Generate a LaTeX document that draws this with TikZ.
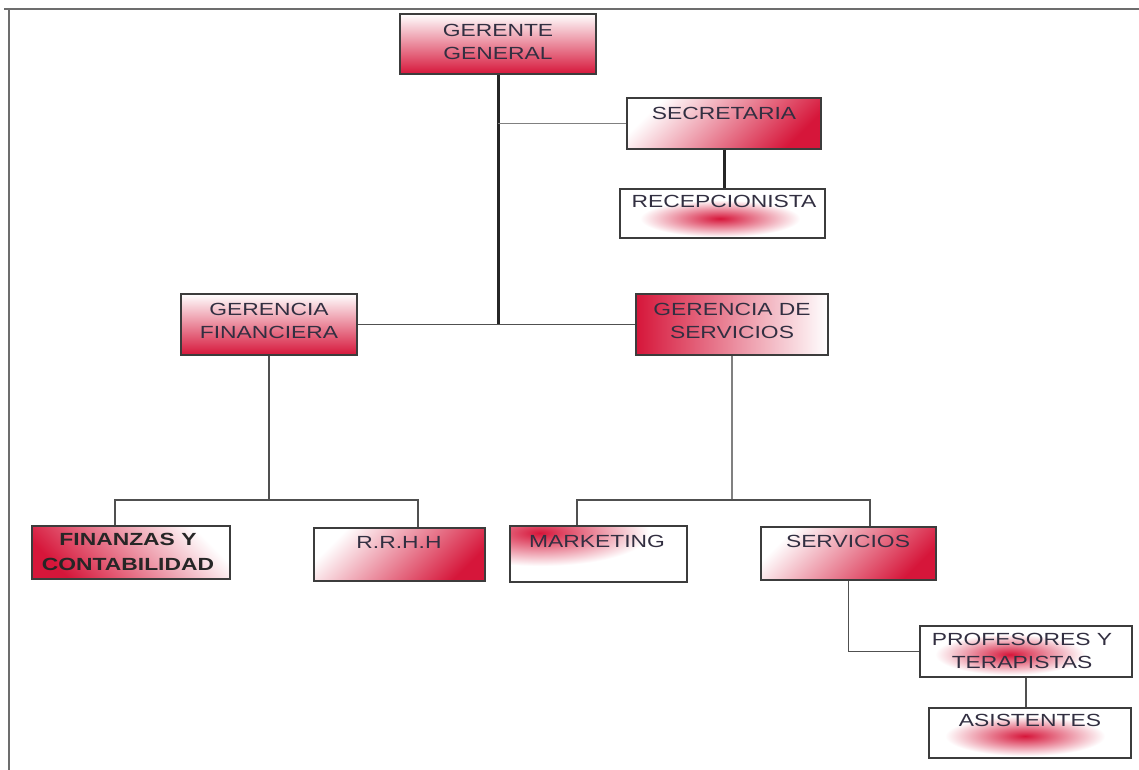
\documentclass[tikz,border=0pt]{standalone}
\usepackage{graphicx}
\usepackage{fontspec}
\setmainfont{Liberation Sans}
\usetikzlibrary{fit}
\definecolor{crim}{RGB}{214,22,58}
\definecolor{frm}{RGB}{60,60,60}
\definecolor{txt}{RGB}{50,47,65}
\newcommand{\wtxt}[1]{\scalebox{1.3}[1]{#1}}
\begin{document}
\begin{tikzpicture}[x=0.02cm,y=-0.02cm,
  box/.style={draw=frm,line width=1pt,inner sep=0pt},
  blob/.style={inner color=crim, outer color=white},
  lbl/.style={text=txt,font=\fontsize{10}{13}\selectfont,align=center,inner sep=0pt},
  link/.style={draw=frm!90,line width=0.8pt},
  thinlink/.style={draw=gray,line width=0.8pt},
  trunk/.style={draw=black!85,line width=1.7pt}]
\useasboundingbox (0,0) rectangle (1139,770);
\fill[white] (0,0) rectangle (1139,770);
\draw[frm!75,line width=1.2pt] (4,9) -- (1139,9);
\draw[frm!75,line width=1.2pt] (9,9) -- (9,770);

% boxes
\node[box, fit={(400,14)(596,74)}, top color=white, middle color=crim!30, bottom color=crim] (gg) {};
\node[box, fit={(627,98)(821,149)}, top color=white, middle color=crim!20, bottom color=crim, shading angle=45] (sec) {};
\node[box, fit={(620,189)(825,238)}, fill=white] (rec) {};
\node[box, fit={(181,294)(357,355)}, top color=white, middle color=crim!40, bottom color=crim] (gf) {};
\node[box, fit={(636,294)(828,355)}, left color=crim, middle color=crim!12, right color=white] (gs) {};
\node[box, fit={(32,526)(230,579)}, top color=white, middle color=crim!50, bottom color=crim, shading angle=-45] (fin) {};
\node[box, fit={(314,528)(485,581)}, top color=white, middle color=crim!25, bottom color=crim, shading angle=45] (rr) {};
\node[box, fit={(510,526)(687,582)}, fill=white] (mkt) {};
\node[box, fit={(761,527)(936,580)}, top color=white, middle color=crim!85, bottom color=crim, shading angle=45] (srv) {};
\node[box, fit={(920,626)(1132,677)}, fill=white] (prof) {};
\node[box, fit={(929,708)(1131,758)}, fill=white] (ast) {};

% red blurs inside white boxes
\path[blob] (640,200) rectangle (800,237);
\begin{scope}
  \clip (511,527) rectangle (686,581);
  \path[blob] (430,500) rectangle (650,566);
\end{scope}
\path[blob] (935,634) rectangle (1085,675);
\path[blob] (945,716) rectangle (1105,756);

% texts
\node[lbl] (ggt) at (498,42) {\wtxt{GERENTE}\\\wtxt{GENERAL}};
\node[lbl] (sect) at (724,113) {\wtxt{SECRETARIA}};
\node[lbl] (rect) at (724,201) {\wtxt{RECEPCIONISTA}};
\node[lbl] (gft) at (269,321) {\wtxt{GERENCIA}\\\wtxt{FINANCIERA}};
\node[lbl] (gst) at (732,321) {\wtxt{GERENCIA DE}\\\wtxt{SERVICIOS}};
\node[lbl,text=black!85,font=\fontsize{10}{14}\selectfont\bfseries] (fint) at (128,552) {\wtxt{FINANZAS Y}\\\wtxt{CONTABILIDAD}};
\node[lbl] (rrt) at (399,542) {\wtxt{R.R.H.H}};
\node[lbl] (mktt) at (597,541) {\wtxt{MARKETING}};
\node[lbl] (srvt) at (848,541) {\wtxt{SERVICIOS}};
\node[lbl] (proft) at (1022,651) {\wtxt{PROFESORES Y}\\\wtxt{TERAPISTAS}};
\node[lbl] (astt) at (1030,720) {\wtxt{ASISTENTES}};

% connectors
\draw[trunk] (gg.south) -- (gg.south |- gf.east);
\draw[link] (gf.east) -- (gs.west);
\draw[thinlink] (sec.west) -- (sec.west -| gg.south);
\draw[trunk] (sec.south) -- (sec.south |- rec.north);
\coordinate (jf) at (269,500);
\coordinate (js) at (732,500);
\draw[link] (gf.south) -- (jf);
\draw[link] ([xshift=-0.32cm]fin.north) |- (jf) -| ([xshift=0.37cm]rr.north);
\draw[thinlink] (gs.south) -- (js);
\draw[link] ([xshift=-0.43cm]mkt.north) |- (js) -| ([xshift=0.43cm]srv.north);
\draw[link] (srv.south) |- (prof.west);
\draw[link,line width=1.2pt] (prof.south) -- (prof.south |- ast.north);
\end{tikzpicture}
\end{document}
